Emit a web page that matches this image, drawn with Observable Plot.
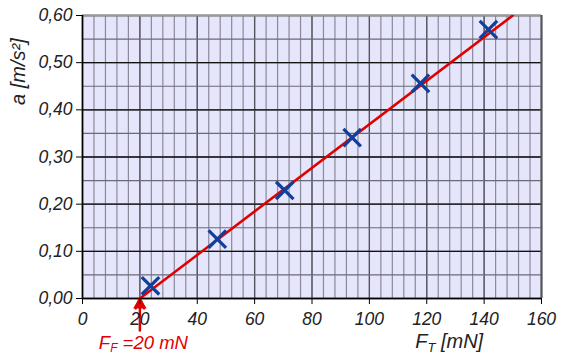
<!DOCTYPE html>
<html>
<head>
<meta charset="utf-8">
<script src="https://cdn.jsdelivr.net/npm/d3@7"></script>
<script src="https://cdn.jsdelivr.net/npm/@observablehq/plot@0.6"></script>
<style>
  html, body { margin: 0; padding: 0; background: #fff; }
  #chart svg { display: block; }
</style>
</head>
<body>
<div id="chart"></div>
<script>
// Measured data points: traction force F_T [mN] and acceleration a [m/s²]
const forceT = [23.7, 47, 70.5, 94, 117.8, 141.5];
const accel = [0.027, 0.126, 0.229, 0.341, 0.456, 0.570];
// Fitted line (starts at friction force F_F = 20 mN)
const lineF = [20, 150];
const lineA = [0, 0.60];
const frictionForce = 20;
// Axis ticks
const xTicks = [0, 20, 40, 60, 80, 100, 120, 140, 160];
const yTicks = [0, 0.1, 0.2, 0.3, 0.4, 0.5, 0.6];
const yTickLabels = ["0,00", "0,10", "0,20", "0,30", "0,40", "0,50", "0,60"];

const points = forceT.map((f, i) => ({f, a: accel[i]}));
const fit = lineF.map((f, i) => ({f, a: lineA[i]}));
const minorX = d3.range(0, 161, 4);
const minorY = d3.range(0, 0.601, 0.05);

const font = "'Liberation Sans', Arial, sans-serif";

const plot = Plot.plot({
  width: 566,
  height: 356,
  marginLeft: 82,
  marginRight: 25,
  marginTop: 15,
  marginBottom: 58,
  style: {fontFamily: font, fontSize: "17px", fontStyle: "italic", color: "#222", background: "#fff"},
  x: {domain: [0, 160], label: null},
  y: {domain: [0, 0.6], label: null},
  marks: [
    Plot.frame({fill: "#e5e5fb", stroke: null}),
    Plot.ruleX(minorX, {stroke: "#8a8a9a", strokeWidth: 1.2}),
    Plot.ruleX(xTicks, {stroke: "#55555f", strokeWidth: 1.3}),
    Plot.ruleY(minorY, {stroke: "#6a6a78", strokeWidth: 1.2}),
    Plot.ruleY(yTicks, {stroke: "#111", strokeWidth: 1.3}),
    Plot.ruleY([0.6], {stroke: "#999", strokeWidth: 2}),
    Plot.ruleX([160], {stroke: "#555", strokeWidth: 2}),
    Plot.line(fit, {x: "f", y: "a", stroke: "#e00000", strokeWidth: 2.5, clip: true}),
    Plot.dot(points, {x: "f", y: "a", symbol: "times", r: 8, stroke: "#123f9a", strokeWidth: 3.2}),
    Plot.ruleY([0], {stroke: "#000", strokeWidth: 1.6}),
    Plot.ruleX([0], {stroke: "#000", strokeWidth: 1.6}),
    Plot.arrow([frictionForce], {x1: d => d, x2: d => d, y1: -0.068, y2: 0, stroke: "#e00000", strokeWidth: 2.5, headLength: 11, headAngle: 45, clip: false}),
    Plot.dot([frictionForce], {x: d => d, y: 0, symbol: "triangle", r: 5, fill: "#e00000", stroke: null, dy: 6, clip: false}),
    Plot.axisX({ticks: xTicks, label: null, tickSize: 6, tickPadding: 8, tickFormat: d => String(d), stroke: "#000", fill: "#222", fontSize: 17.5, fontStyle: "italic", fontFamily: font}),
    Plot.axisY({ticks: yTicks, label: null, tickSize: 6, tickPadding: 4, tickFormat: (d, i) => yTickLabels[i], stroke: "#000", fill: "#222", fontSize: 17.5, fontStyle: "italic", fontFamily: font})
  ]
});

document.getElementById("chart").appendChild(plot);

// Labels with subscripts
const svg = d3.select(plot);
const xs = plot.scale("x");
const ys = plot.scale("y");

svg.append("text")
  .attr("transform", `translate(25, ${ys.apply(0.48)}) rotate(-90)`)
  .attr("text-anchor", "middle")
  .attr("font-family", font)
  .attr("font-size", 20)
  .attr("font-style", "italic")
  .attr("fill", "#222")
  .text("a [m/s²]");

const xLabel = svg.append("text")
  .attr("x", xs.apply(128))
  .attr("y", 348)
  .attr("text-anchor", "middle")
  .attr("font-family", font)
  .attr("font-size", 20)
  .attr("font-style", "italic")
  .attr("fill", "#222");
xLabel.append("tspan").text("F");
xLabel.append("tspan").attr("font-size", 13).attr("dy", 4).text("T");
xLabel.append("tspan").attr("dy", -4).text(" [mN]");

const fLabel = svg.append("text")
  .attr("x", xs.apply(frictionForce) + 4)
  .attr("y", 349)
  .attr("text-anchor", "middle")
  .attr("font-family", font)
  .attr("font-size", 18.5)
  .attr("font-style", "italic")
  .attr("fill", "#e00000");
fLabel.append("tspan").text("F");
fLabel.append("tspan").attr("font-size", 12).attr("dy", 3).text("F");
fLabel.append("tspan").attr("dy", -3).text(" =" + frictionForce + " mN");
</script>
</body>
</html>
